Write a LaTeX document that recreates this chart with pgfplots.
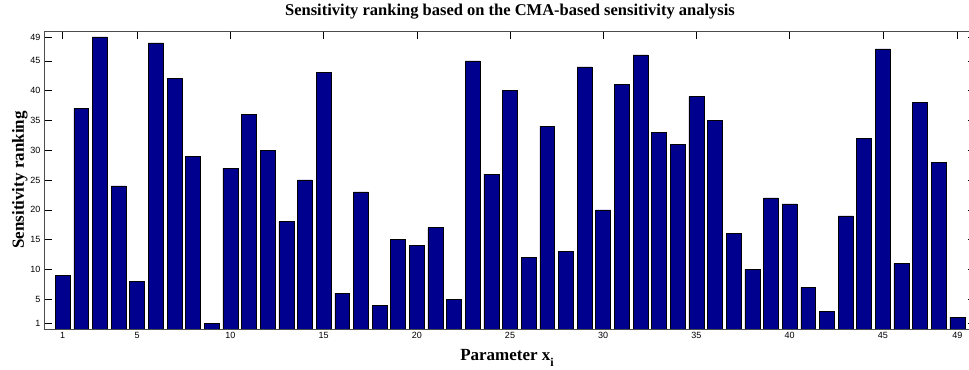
\documentclass[border=0pt]{standalone}
\usepackage{fontspec}
\setmainfont{Liberation Serif}
\newfontfamily\tickfont{Liberation Sans}
\usepackage{pgfplots}
\pgfplotsset{compat=1.18}
\definecolor{barblue}{HTML}{00008F}

\begin{document}
\begin{tikzpicture}
\begin{axis}[
    name=ax,
    scale only axis,
    width=932pt, height=298pt,
    xmin=0, xmax=50, ymin=0, ymax=50,
    ybar, bar width=0.8,
    xtick={1,5,10,15,20,25,30,35,40,45,49},
    ytick={1,5,10,15,20,25,30,35,40,45,49},
    tick align=inside,
    xtick pos=both, ytick pos=both,
    major tick length=8pt,
    tick style={black, line width=0.5pt},
    axis line style={black!70, line width=0.9pt},
    ticklabel style={font=\tickfont\fontsize{9}{10}\selectfont},
    /pgf/number format/assume math mode=true,
    title={Sensitivity ranking based on the CMA-based sensitivity analysis},
    title style={font=\bfseries\fontsize{16.5}{18}\selectfont, at={(0.5,1)}, anchor=base, yshift=9pt},
    ylabel={Sensitivity ranking},
    every axis y label/.style={at={(axis description cs:-0.0215,0.5)}, rotate=90, anchor=base,
        font=\bfseries\fontsize{17}{19}\selectfont},
    xlabel={Parameter x\raisebox{-6pt}{\fontsize{12}{12}\selectfont i}},
    every axis x label/.style={at={(axis description cs:0.5,0)}, anchor=base, yshift=-32pt, xshift=-3pt,
        font=\bfseries\fontsize{17}{19}\selectfont},
]
\addplot[fill=barblue, draw=black, line width=0.5pt] coordinates {
(1,9) (2,37) (3,49) (4,24) (5,8) (6,48) (7,42) (8,29) (9,1) (10,27)
(11,36) (12,30) (13,18) (14,25) (15,43) (16,6) (17,23) (18,4) (19,15) (20,14)
(21,17) (22,5) (23,45) (24,26) (25,40) (26,12) (27,34) (28,13) (29,44) (30,20)
(31,41) (32,46) (33,33) (34,31) (35,39) (36,35) (37,16) (38,10) (39,22) (40,21)
(41,7) (42,3) (43,19) (44,32) (45,47) (46,11) (47,38) (48,28) (49,2)
};
\end{axis}
\pgfresetboundingbox
\path ([xshift=-44pt,yshift=-41pt]ax.south west) rectangle ([xshift=925pt,yshift=31pt]ax.north west);
\end{tikzpicture}
\end{document}
